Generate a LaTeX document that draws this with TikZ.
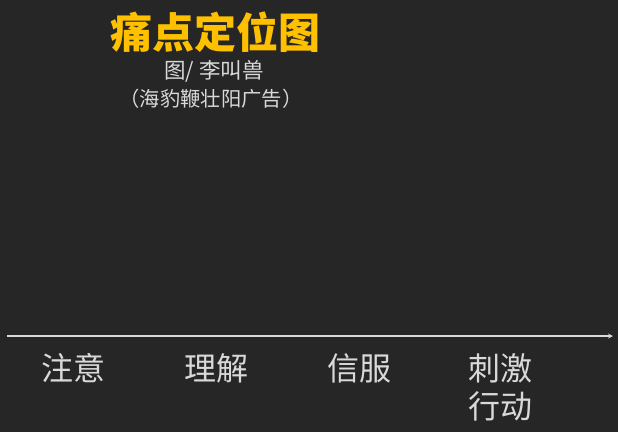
\documentclass[tikz,border=0pt]{standalone}
\usepackage{fontspec}
\setmainfont{Noto Sans CJK SC}
\usetikzlibrary{
		calc,
		positioning
	}
\tikzset{
		>=stealth
	}
\definecolor{bgdark}{HTML}{262626}
\definecolor{titleyellow}{HTML}{FFC000}
\definecolor{textgray}{HTML}{D9D9D9}

\begin{document}
\begin{tikzpicture}[x=1pt,y=-1pt,thick,
    stage/.style={text=textgray, font=\fontsize{32}{36}\selectfont, inner sep=0pt}]
          \fill[bgdark] (0,0) rectangle (618,432);
          \useasboundingbox (0,0) rectangle (618,432);

          \node[text=titleyellow, font=\bfseries\fontsize{42}{46}\selectfont,
                draw=none, inner sep=0pt] (title) at (215,32) {痛点定位图};
          \node[text=textgray, font=\fontsize{21.5}{24}\selectfont, inner sep=0pt]
                (author) at (214,71) {图/ 李叫兽};
          \node[text=textgray, font=\fontsize{20.3}{23}\selectfont, inner sep=0pt]
                (case) at (211,99) {（海豹鞭壮阳广告）};

          \coordinate (S) at (7,336);
          \coordinate (E) at (613,336);
          \draw[textgray, line width=1.2pt, ->] (S) -- (E);

          \node[stage] (attn) at (73,368) {注意};
          \node[stage] (know) at (216,368) {理解};
          \node[stage] (trust) at (359,368) {信服};
          \node[stage] (act1) at (500,368) {刺激};
          \node[stage] (act2) at (500,406) {行动};

          \end{tikzpicture}
\end{document}
